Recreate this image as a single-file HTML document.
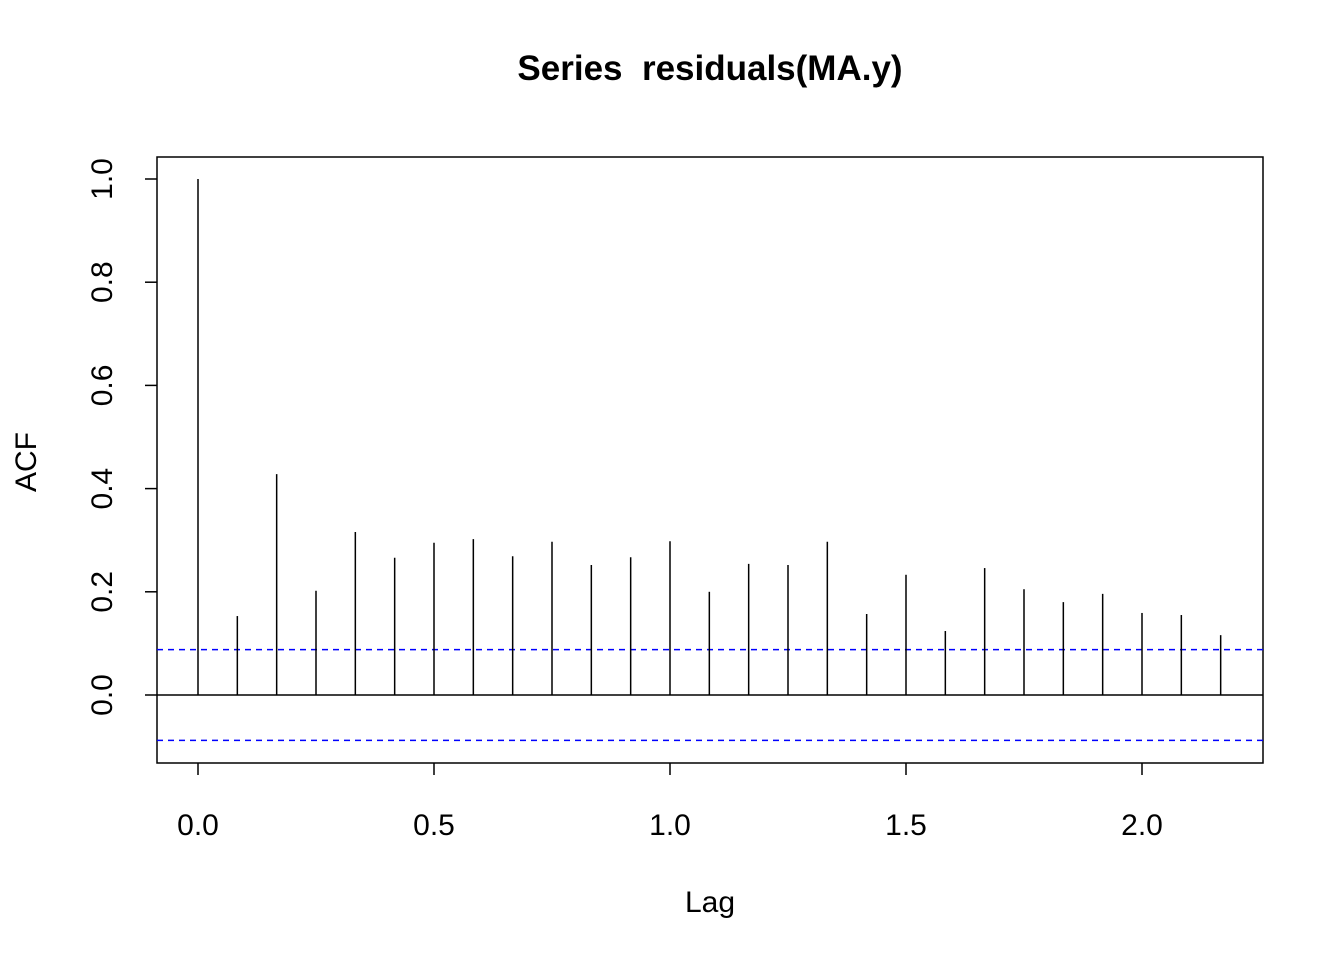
<!DOCTYPE html>
<html><head><meta charset="utf-8"><style>html,body{margin:0;padding:0;background:#fff}svg{display:block}text{font-family:"Liberation Sans",Arial,sans-serif}</style></head>
<body>
<svg id="chart" width="1344" height="960" viewBox="0 0 1344 960">
<text x="710" y="80" font-size="35" font-weight="bold" text-anchor="middle" xml:space="preserve">Series  residuals(MA.y)</text>
<text x="710" y="912" font-size="30" text-anchor="middle">Lag</text>
<text x="0" y="0" font-size="30" text-anchor="middle" transform="translate(36,462) rotate(-90)">ACF</text>
<rect x="157" y="157" width="1106" height="606" fill="none" stroke="#000" stroke-width="1.5"/>
<g id="marks"></g>
</svg>
<script>
const lagNums = [0,1,2,3,4,5,6,7,8,9,10,11,12,13,14,15,16,17,18,19,20,21,22,23,24,25,26];
const acfValues = [1.0,0.153,0.428,0.202,0.316,0.266,0.295,0.302,0.269,0.297,0.252,0.267,0.298,0.200,0.254,0.252,0.297,0.157,0.233,0.124,0.246,0.205,0.180,0.196,0.159,0.155,0.116];
const ciBound = 0.088;
const xTicks = [0,0.5,1.0,1.5,2.0];
const xTickLabels = ["0.0","0.5","1.0","1.5","2.0"];
const yTicks = [0,0.2,0.4,0.6,0.8,1.0];
const yTickLabels = ["0.0","0.2","0.4","0.6","0.8","1.0"];
const freq = 12;

const xs = v => 198 + v*472;
const ys = v => 695 - v*516;
const NS = "http://www.w3.org/2000/svg";
const g = document.getElementById('marks');
function mk(tag, attrs){const e=document.createElementNS(NS,tag);for(const k in attrs)e.setAttribute(k,attrs[k]);g.appendChild(e);return e;}

let zl = mk('line',{x1:157,x2:1263,y1:ys(0),y2:ys(0),stroke:'#000','stroke-width':1.5});


[ciBound,-ciBound].forEach((c,i)=>{
  const l = mk('line',{x1:157,x2:1263,y1:ys(c),y2:ys(c),stroke:'#0000ff','stroke-width':1.5,'stroke-dasharray':'6,5'});
  
  
});
lagNums.forEach((k,i)=>{
  const x = xs(k/freq);
  const b = mk('line',{x1:x,x2:x,y1:ys(0),y2:ys(acfValues[i]),stroke:'#000','stroke-width':1.5});
  
  
});
xTicks.forEach((t,i)=>{
  const x = xs(t);
  const l = mk('line',{x1:x,x2:x,y1:763,y2:775,stroke:'#000','stroke-width':1.5});
  
  
  const tx = mk('text',{x:x,y:835,'font-size':30,'text-anchor':'middle'});
  tx.textContent = xTickLabels[i];
  
  
});
yTicks.forEach((t,i)=>{
  const y = ys(t);
  const l = mk('line',{x1:145,x2:157,y1:y,y2:y,stroke:'#000','stroke-width':1.5});
  
  
  const tx = mk('text',{x:0,y:0,'font-size':30,'text-anchor':'middle',transform:`translate(112,${y}) rotate(-90)`});
  tx.textContent = yTickLabels[i];
  
  
});
</script>
</body></html>
